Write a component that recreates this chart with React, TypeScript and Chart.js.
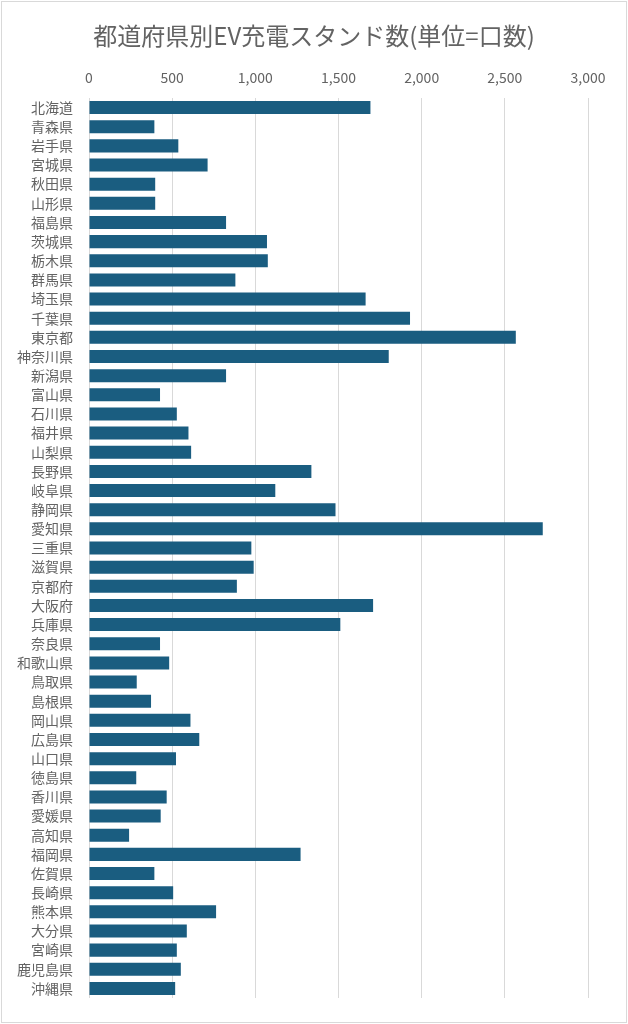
import { useEffect, useRef } from "react";
import { Chart, registerables } from "chart.js";

Chart.register(...registerables);

const title = "都道府県別EV充電スタンド数(単位=口数)";

const prefectures = [
  "北海道", "青森県", "岩手県", "宮城県", "秋田県", "山形県", "福島県",
  "茨城県", "栃木県", "群馬県", "埼玉県", "千葉県", "東京都", "神奈川県",
  "新潟県", "富山県", "石川県", "福井県", "山梨県", "長野県", "岐阜県",
  "静岡県", "愛知県", "三重県", "滋賀県", "京都府", "大阪府", "兵庫県",
  "奈良県", "和歌山県", "鳥取県", "島根県", "岡山県", "広島県", "山口県",
  "徳島県", "香川県", "愛媛県", "高知県", "福岡県", "佐賀県", "長崎県",
  "熊本県", "大分県", "宮崎県", "鹿児島県", "沖縄県",
];

const chargers = [
  1692, 393, 537, 713, 398, 398, 824,
  1070, 1075, 880, 1663, 1930, 2566, 1802,
  824, 427, 528, 598, 614, 1337, 1120,
  1482, 2728, 976, 990, 889, 1708, 1511,
  427, 482, 287, 373, 610, 663, 523,
  284, 467, 431, 241, 1272, 393, 506,
  764, 588, 528, 552, 518,
];

const xMin = 0;
const xMax = 3000;
const xStep = 500;

const FONT = "'Noto Sans CJK JP', 'Noto Sans', sans-serif";
const TEXT = "#636363";
const BAR = "#1a5d80";
const GRID = "#d9d9d9";

// title centred on the whole canvas, like the Excel chart title
const titlePlugin = {
  id: "canvasTitle",
  afterDraw(chart: any) {
    const ctx = chart.ctx;
    ctx.save();
    ctx.font = `24px ${FONT}`;
    ctx.fillStyle = TEXT;
    ctx.textAlign = "center";
    ctx.textBaseline = "middle";
    ctx.fillText(title, chart.width / 2, 36);
    ctx.restore();
  },
};

export default function App() {
  const canvasRef = useRef<HTMLCanvasElement | null>(null);

  useEffect(() => {
    if (!canvasRef.current) return;
    const chart = new Chart(canvasRef.current, {
      type: "bar",
      data: {
        labels: prefectures,
        datasets: [
          {
            label: "口数",
            data: chargers,
            backgroundColor: BAR,
            barPercentage: 0.68,
            categoryPercentage: 1,
          },
        ],
      },
      options: {
        indexAxis: "y",
        animation: false,
        responsive: true,
        maintainAspectRatio: false,
        layout: { padding: { left: 0, right: 40, top: 49, bottom: 26 } },
        scales: {
          x: {
            position: "top",
            min: xMin,
            max: xMax,
            ticks: {
              stepSize: xStep,
              color: TEXT,
              font: { family: FONT, size: 14 },
              padding: 12,
              callback: (v: any) => Number(v).toLocaleString("en-US"),
            },
            grid: { color: GRID, lineWidth: 1, drawTicks: false },
            border: { display: false },
            afterFit: (scale: any) => {
              scale.height = 49;
            },
          },
          y: {
            ticks: {
              color: TEXT,
              font: { family: FONT, size: 14 },
              padding: 16,
              autoSkip: false,
            },
            grid: { display: false, drawTicks: false },
            border: { display: false },
            afterFit: (scale: any) => {
              scale.width = 89;
            },
          },
        },
        plugins: {
          legend: { display: false },
          tooltip: { enabled: false },
          title: { display: false },
        },
      },
      plugins: [titlePlugin],
    });
    return () => {
      chart.destroy();
    };
  }, []);

  return (
    <div
      style={{
        position: "fixed",
        left: 0,
        top: 0,
        width: 628,
        height: 1024,
        background: "#fff",
      }}
    >
      <div style={{ position: "absolute", inset: 0 }}>
        <canvas ref={canvasRef} />
      </div>
      <div
        style={{
          position: "absolute",
          inset: 1,
          border: "1px solid #d9d9d9",
          pointerEvents: "none",
        }}
      />
    </div>
  );
}
